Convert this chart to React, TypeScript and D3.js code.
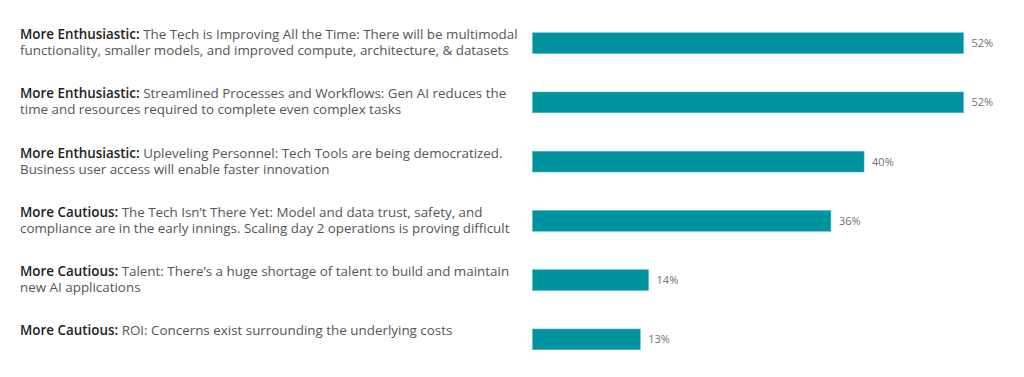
import React from "react";
import * as d3 from "d3";

const prefixes = [
  "More Enthusiastic:",
  "More Enthusiastic:",
  "More Enthusiastic:",
  "More Cautious:",
  "More Cautious:",
  "More Cautious:",
];
const line1 = [
  " The Tech is Improving All the Time: There will be multimodal",
  " Streamlined Processes and Workflows: Gen AI reduces the",
  " Upleveling Personnel: Tech Tools are being democratized.",
  " The Tech Isn\u2019t There Yet: Model and data trust, safety, and",
  " Talent: There\u2019s a huge shortage of talent to build and maintain",
  " ROI: Concerns exist surrounding the underlying costs",
];
const line2 = [
  "functionality, smaller models, and improved compute, architecture, & datasets",
  "time and resources required to complete even complex tasks",
  "Business user access will enable faster innovation",
  "compliance are in the early innings. Scaling day 2 operations is proving difficult",
  "new AI applications",
  "",
];
const values = [52, 52, 40, 36, 14, 13];

const W = 1024;
const H = 377;
const FONT = "'Open Sans', 'Noto Sans', sans-serif";

export default function App() {
  const x = d3.scaleLinear().domain([0, 52]).range([532.5, 963.5]);
  const ids = values.map((_, i) => i);
  const y = d3.scaleBand<number>().domain(ids).range([15, 367.5]).paddingInner(0.65).paddingOuter(0.3);
  return (
    <svg width={W} height={H} style={{ position: "absolute", left: 0, top: 0, background: "#fff" }}>
      {ids.map((i) => {
        const by = y(i)!;
        const bh = y.bandwidth();
        return (
          <g key={i}>
            <rect x={x(0)} y={by} width={x(values[i]) - x(0)} height={bh} fill="#00929F" stroke="#4fb6bf" strokeWidth={0.6} />
            <text x={x(values[i]) + 8} y={by + bh / 2 + 4} fontFamily={FONT} fontSize={11} fill="#707070">
              {values[i]}%
            </text>
            <text x={20} y={by + 6.3} fontFamily={FONT} fontSize={13.4} fill="#555">
              <tspan fill="#222" fontWeight={600}>{prefixes[i]}</tspan>
              <tspan>{line1[i]}</tspan>
              {line2[i] && (
                <tspan x={20} dy={16}>{line2[i]}</tspan>
              )}
            </text>
          </g>
        );
      })}
    </svg>
  );
}
